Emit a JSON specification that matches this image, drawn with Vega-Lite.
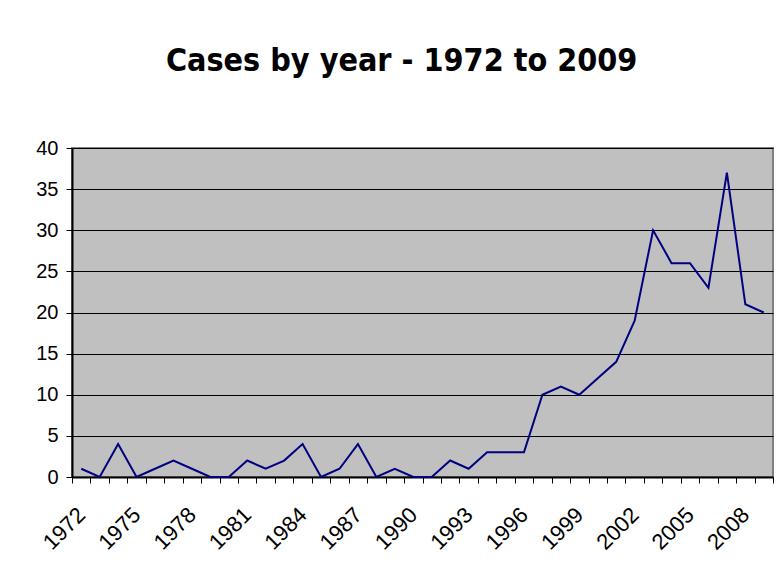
{
  "$schema": "https://vega.github.io/schema/vega-lite/v6.json",
  "autosize": "none",
  "width": 701,
  "height": 329,
  "padding": {"left": 72, "top": 148, "right": 3, "bottom": 106},
  "background": "white",
  "title": {
    "text": "Cases by year - 1972 to 2009",
    "font": "Liberation Sans Narrow, Arial Narrow, DejaVu Sans Condensed, Liberation Sans",
    "fontSize": 32,
    "fontWeight": "bold",
    "color": "black",
    "anchor": "middle",
    "frame": "bounds",
    "baseline": "alphabetic",
    "offset": 35,
    "dx": -3
  },
  "config": {
    "view": {"fill": "#C0C0C0", "stroke": "#808080", "strokeWidth": 2},
    "axis": {
      "labelFont": "Liberation Sans",
      "labelFontSize": 20,
      "labelColor": "black",
      "domainColor": "black",
      "domainWidth": 2,
      "tickColor": "black",
      "tickWidth": 1,
      "tickSize": 6,
      "titleFontSize": 0
    }
  },
  "data": {
    "values": [
      {"year": 1972, "cases": 1}, {"year": 1973, "cases": 0}, {"year": 1974, "cases": 4},
      {"year": 1975, "cases": 0}, {"year": 1976, "cases": 1}, {"year": 1977, "cases": 2},
      {"year": 1978, "cases": 1}, {"year": 1979, "cases": 0}, {"year": 1980, "cases": 0},
      {"year": 1981, "cases": 2}, {"year": 1982, "cases": 1}, {"year": 1983, "cases": 2},
      {"year": 1984, "cases": 4}, {"year": 1985, "cases": 0}, {"year": 1986, "cases": 1},
      {"year": 1987, "cases": 4}, {"year": 1988, "cases": 0}, {"year": 1989, "cases": 1},
      {"year": 1990, "cases": 0}, {"year": 1991, "cases": 0}, {"year": 1992, "cases": 2},
      {"year": 1993, "cases": 1}, {"year": 1994, "cases": 3}, {"year": 1995, "cases": 3},
      {"year": 1996, "cases": 3}, {"year": 1997, "cases": 10}, {"year": 1998, "cases": 11},
      {"year": 1999, "cases": 10}, {"year": 2000, "cases": 12}, {"year": 2001, "cases": 14},
      {"year": 2002, "cases": 19}, {"year": 2003, "cases": 30}, {"year": 2004, "cases": 26},
      {"year": 2005, "cases": 26}, {"year": 2006, "cases": 23}, {"year": 2007, "cases": 37},
      {"year": 2008, "cases": 21}, {"year": 2009, "cases": 20}
    ]
  },
  "mark": {"type": "line", "color": "#000080", "strokeWidth": 2},
  "encoding": {
    "x": {
      "field": "year",
      "type": "ordinal",
      "scale": {"type": "band", "paddingInner": 0, "paddingOuter": 0},
      "axis": {
        "title": null,
        "tickBand": "extent",
        "labelAngle": -45,
        "labelAlign": "right",
        "labelBaseline": "middle",
        "labelFontSize": 22,
        "labelPadding": 28,
        "labelOverlap": false,
        "labelExpr": "(datum.value - 1972) % 3 == 0 ? datum.label : ''"
      }
    },
    "y": {
      "field": "cases",
      "type": "quantitative",
      "scale": {"domain": [0, 40], "nice": false},
      "axis": {
        "title": null,
        "values": [0, 5, 10, 15, 20, 25, 30, 35, 40],
        "grid": true,
        "gridColor": "black",
        "gridWidth": 1,
        "gridOpacity": 1,
        "labelPadding": 8
      }
    }
  }
}
